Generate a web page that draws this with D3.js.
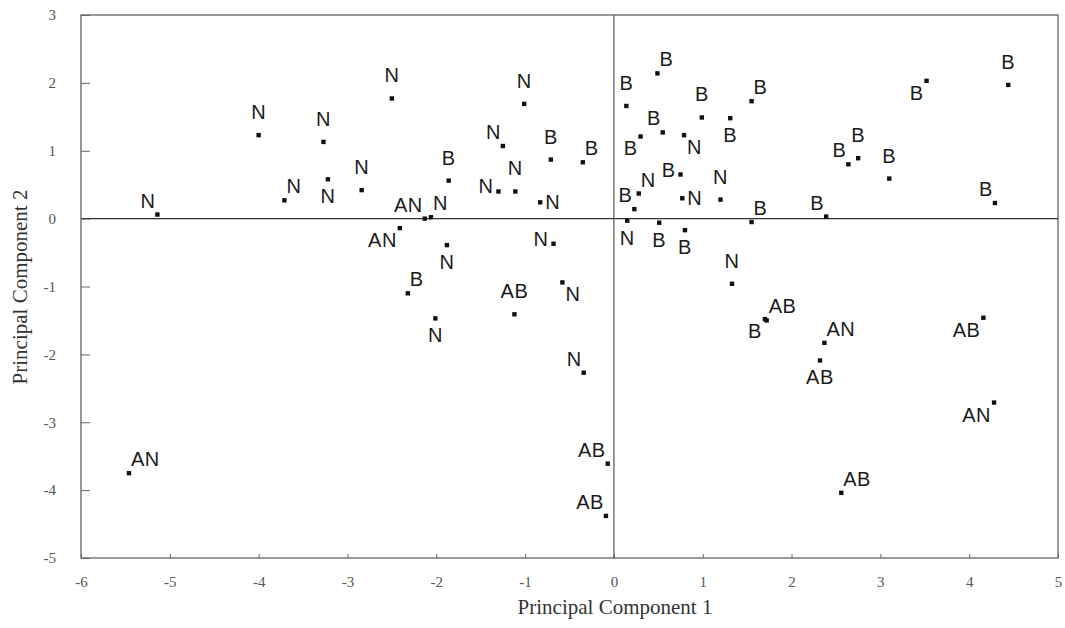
<!DOCTYPE html>
<html>
<head>
<meta charset="utf-8">
<script src="https://cdn.jsdelivr.net/npm/d3@7"></script>
<style>
  body { margin: 0; background: #fff; }
  svg { display: block; }
</style>
</head>
<body>
<div id="plot"></div>
<script>
// group labels, PC1 scores, PC2 scores
const groups = ["N","N","N","N","N","N","N","N","B","B",
                "N","B","AN","N","N","N","N","AN","N","N",
                "B","N","AB","N","N","AB","AB","AN","B","B",
                "B","B","B","N","B","N","B","N","N","B",
                "B","B","B","N","B","B","B","B","B","B",
                "B","B","N","AB","B","AN","AB","AB","AN","AB"];
const pc1 = [-5.14,-4.00,-3.27,-3.71,-3.22,-2.50,-1.01,-1.25,-0.71,-0.35,
             -2.84,-1.86,-2.13,-2.06,-1.30,-1.11,-0.83,-2.41,-1.88,-0.68,
             -2.32,-0.58,-1.12,-2.01,-0.34,-0.07,-0.09,-5.46, 0.14, 0.49,
              0.55, 0.30, 0.99, 0.79, 0.75, 0.28, 0.23, 0.77, 0.15, 0.51,
              0.80, 1.55, 1.31, 1.20, 1.55, 2.39, 2.64, 2.75, 3.10, 3.52,
              4.44, 4.29, 1.33, 1.72, 1.70, 2.37, 2.32, 4.16, 4.28, 2.56];
const pc2 = [ 0.06, 1.23, 1.13, 0.27, 0.58, 1.77, 1.69, 1.07, 0.87, 0.83,
              0.42, 0.56, 0.00, 0.02, 0.40, 0.40, 0.24,-0.14,-0.39,-0.37,
             -1.10,-0.94,-1.41,-1.47,-2.27,-3.61,-4.38,-3.75, 1.66, 2.14,
              1.27, 1.21, 1.49, 1.23, 0.65, 0.37, 0.14, 0.30,-0.03,-0.06,
             -0.17, 1.73, 1.48, 0.28,-0.05, 0.03, 0.80, 0.89, 0.59, 2.03,
              1.97, 0.23,-0.96,-1.50,-1.48,-1.83,-2.09,-1.46,-2.71,-4.04];
// where each label sits around its point (compass code)
const placement = ["nw","n","n","ne","s","n","n","nw","n","ne",
                   "n","n","nw","ne","w","n","e","sw","s","w",
                   "ne","se","n","s","nw","nw","nw","ne","n","ne",
                   "nw","sw","n","se","w","ne","nw","e","s","s",
                   "s","ne","s","n","ne","nw","nw","n","n","sw",
                   "n","nw","n","ne","sw","ne","s","sw","sw","ne"];
const xTicks = [-6,-5,-4,-3,-2,-1,0,1,2,3,4,5];
const yTicks = [-5,-4,-3,-2,-1,0,1,2,3];

const width = 1065, height = 628;
const xScale = d3.scaleLinear().domain([-6, 5]).range([81, 1058]);
const yScale = d3.scaleLinear().domain([-5, 3]).range([558, 15]);

const data = groups.map((g, i) => ({g, x: pc1[i], y: pc2[i], p: placement[i]}));

const svg = d3.select("#plot")
    .append("svg")
    .attr("width", width)
    .attr("height", height);

// frame
svg.append("rect")
    .attr("x", xScale(-6)).attr("y", yScale(3))
    .attr("width", xScale(5) - xScale(-6))
    .attr("height", yScale(-5) - yScale(3))
    .attr("fill", "none").attr("stroke", "#555").attr("stroke-width", 1.2);

// zero lines
svg.append("line")
    .attr("x1", xScale(-6)).attr("x2", xScale(5))
    .attr("y1", yScale(0)).attr("y2", yScale(0))
    .attr("stroke", "#333").attr("stroke-width", 1.3);
svg.append("line")
    .attr("x1", xScale(0)).attr("x2", xScale(0))
    .attr("y1", yScale(3)).attr("y2", yScale(-5))
    .attr("stroke", "#555").attr("stroke-width", 1.2);

// axes (ticks pointing inward), plain hyphen for negatives like the scan
const fmt = d => String(d);
const xAxis = svg.append("g")
    .attr("transform", `translate(0,${yScale(-5)})`)
    .call(d3.axisBottom(xScale).tickValues(xTicks).tickSizeInner(-4).tickSizeOuter(0).tickPadding(18).tickFormat(fmt));
const yAxis = svg.append("g")
    .attr("transform", `translate(${xScale(-6)},0)`)
    .call(d3.axisLeft(yScale).tickValues(yTicks).tickSizeInner(-9).tickSizeOuter(0).tickPadding(25).tickFormat(fmt));
[xAxis, yAxis].forEach(a => {
    a.select(".domain").remove();
    a.selectAll("line").attr("stroke", "#666");
    a.selectAll("text")
        .attr("font-family", "'Liberation Serif', serif")
        .attr("font-size", 15)
        .attr("fill", "#555");
});

// axis titles
svg.append("text")
    .attr("x", 615)
    .attr("y", 614)
    .attr("text-anchor", "middle")
    .attr("font-family", "'Liberation Serif', serif")
    .attr("font-size", 21)
    .attr("fill", "#333")
    .text("Principal Component 1");
svg.append("text")
    .attr("transform", `translate(27,287) rotate(-90)`)
    .attr("text-anchor", "middle")
    .attr("font-family", "'Liberation Serif', serif")
    .attr("font-size", 21)
    .attr("fill", "#333")
    .text("Principal Component 2");

// points
svg.append("g").selectAll("rect")
    .data(data)
    .join("rect")
    .attr("x", d => xScale(d.x) - 2.2)
    .attr("y", d => yScale(d.y) - 2.2)
    .attr("width", 4.4).attr("height", 4.4)
    .attr("fill", "#111");

// labels
const anchor = {n: "middle", s: "middle", ne: "start", se: "start", e: "start", nw: "end", sw: "end", w: "end"};
const dxOf = {n: 0, s: 0, ne: 2, se: 3, e: 5, nw: -2, sw: -3, w: -5};
const dyOf = {n: -16, s: 24, ne: -7, se: 19, e: 7, nw: -7, sw: 19, w: 2};
svg.append("g").selectAll("text")
    .data(data)
    .join("text")
    .attr("x", d => xScale(d.x) + dxOf[d.p])
    .attr("y", d => yScale(d.y) + dyOf[d.p])
    .attr("text-anchor", d => anchor[d.p])
    .attr("font-family", "'Liberation Sans', Arial, sans-serif")
    .attr("font-size", 20)
    .attr("letter-spacing", 0.5)
    .attr("fill", "#1a1a1a")
    .text(d => d.g);
</script>
</body>
</html>
